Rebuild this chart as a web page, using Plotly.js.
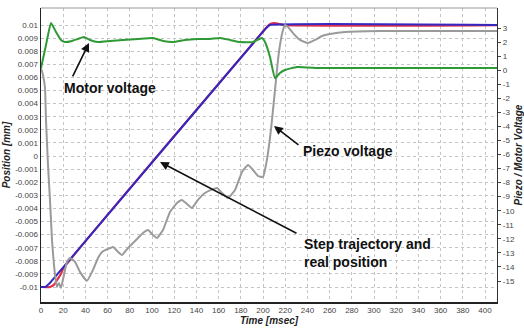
<!DOCTYPE html>
<html>
<head>
<meta charset="utf-8">
<script src="https://cdn.plot.ly/plotly-3.0.1.min.js"></script>
<style>html,body{margin:0;padding:0;background:#fff;}#chart{width:524px;height:331px;}</style>
</head>
<body>
<div id="chart"></div>
<script>
// Step trajectory (mm)
const trajTime = [0, 4, 6, 8, 10, 200, 202, 204, 206, 411];
const trajPos = [-0.01, -0.01, -0.00985, -0.0097, -0.0095, 0.0095, 0.0097, 0.00985, 0.01, 0.01];
// Real position (mm)
const realTime = [0, 8, 12, 15, 18, 20, 200, 204, 207, 210, 214, 218, 411];
const realPos = [-0.01, -0.01, -0.0098, -0.0094, -0.009, -0.0086, 0.0095, 0.0099, 0.0101, 0.01015, 0.0101, 0.01, 0.01];
// Motor voltage (V)
const motorTime = [0, 4.5, 9, 13.5, 18, 21.6, 28, 33.3, 38.7, 44.1, 51.4, 62.2, 73.9, 87.4, 100.9, 109.9, 118.9, 129.7, 140.5, 152.3, 161.3, 170.3, 179.3, 191, 199.1, 201.8, 206.3, 210.8, 215.3, 219.8, 230.6, 251.4, 287.4, 341.4, 411];
const motorVolt = [0.15, 1.79, 3.36, 2.72, 2.15, 2.0, 2.08, 2.22, 2.36, 2.15, 2.0, 2.08, 2.15, 2.22, 2.29, 2.08, 2.0, 2.15, 2.22, 2.22, 2.29, 2.15, 2.0, 2.0, 2.29, 2.0, 0.94, -0.56, -0.2, 0.01, 0.23, 0.15, 0.15, 0.15, 0.15];
// Piezo voltage (V)
const piezoTime = [0, 1.8, 3.6, 4.5, 6.3, 8.1, 9.9, 11.7, 13.5, 14.4, 16.2, 18, 20.7, 23.4, 26.1, 30.6, 35.1, 41.4, 46.8, 51.4, 55, 60.4, 64.9, 69.4, 73, 78.4, 86.5, 91.9, 96.4, 100.9, 104.5, 109.9, 116.2, 122.5, 127, 131.5, 136, 141.4, 147.7, 153.2, 158.6, 163.1, 168.5, 174.8, 181.1, 186.5, 191, 195.5, 200, 202.7, 204.5, 206.3, 208.1, 210.8, 213.5, 215.3, 218, 219.8, 222.5, 227, 233.3, 240.5, 246.8, 253.2, 260.4, 273.9, 305.4, 341.4, 411];
const piezoVolt = [0.15, -0.34, -1.27, -3.54, -6.74, -9.23, -12.08, -13.86, -15.07, -15.42, -15.14, -15.49, -14.57, -13.64, -13.36, -13.64, -14.35, -14.99, -14.21, -13.36, -12.93, -12.72, -12.58, -12.93, -13.15, -12.65, -12.01, -11.58, -11.37, -11.72, -11.94, -11.37, -10.09, -9.45, -9.23, -9.52, -9.8, -9.23, -8.74, -8.52, -8.38, -8.74, -9.09, -8.52, -7.24, -6.74, -7.1, -7.53, -7.6, -6.74, -5.89, -4.82, -3.54, -1.41, 0.72, 1.79, 2.86, 3.21, 3.07, 2.64, 2.15, 1.93, 2.15, 2.43, 2.57, 2.72, 2.79, 2.79, 2.79];

const xTicks = [0, 20, 40, 60, 80, 100, 120, 140, 160, 180, 200, 220, 240, 260, 280, 300, 320, 340, 360, 380, 400];
const yTicks = [0.01, 0.009, 0.008, 0.007, 0.006, 0.005, 0.004, 0.003, 0.002, 0.001, 0, -0.001, -0.002, -0.003, -0.004, -0.005, -0.006, -0.007, -0.008, -0.009, -0.01];
const yTickText = ['0.01', '0.009', '0.008', '0.007', '0.006', '0.005', '0.004', '0.003', '0.002', '0.001', '0', '-0.001', '-0.002', '-0.003', '-0.004', '-0.005', '-0.006', '-0.007', '-0.008', '-0.009', '-0.01'];
const y2Ticks = [3, 2, 1, 0, -1, -2, -3, -4, -5, -6, -7, -8, -9, -10, -11, -12, -13, -14, -15];

const FONT = 'Liberation Sans, Arial, sans-serif';

const traces = [
  {x: piezoTime, y: piezoVolt, yaxis: 'y2', mode: 'lines', line: {color: '#9a9a9a', width: 2, shape: 'spline', smoothing: 0.4}, name: 'Piezo voltage'},
  {x: motorTime, y: motorVolt, yaxis: 'y2', mode: 'lines', line: {color: '#2e9a35', width: 2, shape: 'spline', smoothing: 0.4}, name: 'Motor voltage'},
  {x: realTime, y: realPos, mode: 'lines', line: {color: '#e0304a', width: 2.2, shape: 'spline', smoothing: 0.5}, name: 'Real position'},
  {x: trajTime, y: trajPos, mode: 'lines', line: {color: '#3528c0', width: 2, shape: 'spline', smoothing: 0.4}, name: 'Step trajectory'}
];

const arrowStyle = {showarrow: true, arrowhead: 2, arrowsize: 1.1, arrowwidth: 1.6, arrowcolor: '#111', standoff: 0, text: '', xref: 'x', yref: 'y'};
const annFont = {family: FONT, size: 14, color: '#111', weight: 'bold'};

const layout = {
  width: 524, height: 331,
  margin: {l: 41, r: 27, t: 8, b: 29},
  paper_bgcolor: '#fff', plot_bgcolor: '#fff',
  showlegend: false,
  font: {family: FONT, size: 8, color: '#333'},
  xaxis: {
    range: [0, 410.8], tickvals: xTicks, ticktext: xTicks.map(String),
    showgrid: true, gridcolor: '#c4c4c4', griddash: 'dot', gridwidth: 1,
    zeroline: false, showline: true, linecolor: '#222', linewidth: 1.5,
    ticks: '', tickfont: {size: 8, color: '#444'},
    title: {text: '<b><i>Time [msec]</i></b>', font: {size: 10, color: '#222'}, standoff: 2}
  },
  yaxis: {
    range: [-0.011145, 0.0113], tickvals: yTicks, ticktext: yTickText,
    showgrid: true, gridcolor: '#c4c4c4', griddash: 'dot', gridwidth: 1,
    zeroline: false, showline: true, linecolor: '#222', linewidth: 1.5,
    ticks: '', tickfont: {size: 8, color: '#444'},
    title: {text: '<b><i>Position [mm]</i></b>', font: {size: 10, color: '#222'}, standoff: 2}
  },
  yaxis2: {
    overlaying: 'y', side: 'right',
    range: [-16.494, 4.423], tickvals: y2Ticks, ticktext: y2Ticks.map(String),
    showgrid: false, zeroline: false, showline: true, linecolor: '#333', linewidth: 1.2,
    ticks: 'outside', ticklen: 3, tickcolor: '#444', tickfont: {size: 8, color: '#444'},
    title: {text: '<b><i>Piezo / Motor Voltage</i></b>', font: {size: 10, color: '#222'}, standoff: 4}
  },
  shapes: [
    {type: 'line', xref: 'paper', yref: 'paper', x0: 0, x1: 1, y0: 1, y1: 1, line: {color: '#999', width: 1}}
  ],
  annotations: [
    {x: 62.2, y: 0.0052, xref: 'x', yref: 'y', text: 'Motor voltage', showarrow: false, font: annFont},
    Object.assign({x: 43.2, y: 0.00863, ax: -17, ay: 35}, arrowStyle),
    {x: 276.6, y: 0.00038, xref: 'x', yref: 'y', text: 'Piezo voltage', showarrow: false, font: annFont},
    Object.assign({x: 209.9, y: 0.00229, ax: 26, ay: 20}, arrowStyle),
    {x: 235.1, y: -0.0074, xref: 'x', yref: 'y', text: 'Step trajectory and<br>real position', showarrow: false, xanchor: 'left', align: 'left', font: annFont},
    Object.assign({x: 107.2, y: -0.000458, ax: 138, ay: 72}, arrowStyle)
  ]
};

Plotly.newPlot('chart', traces, layout, {displayModeBar: false, staticPlot: true});
</script>
</body>
</html>
